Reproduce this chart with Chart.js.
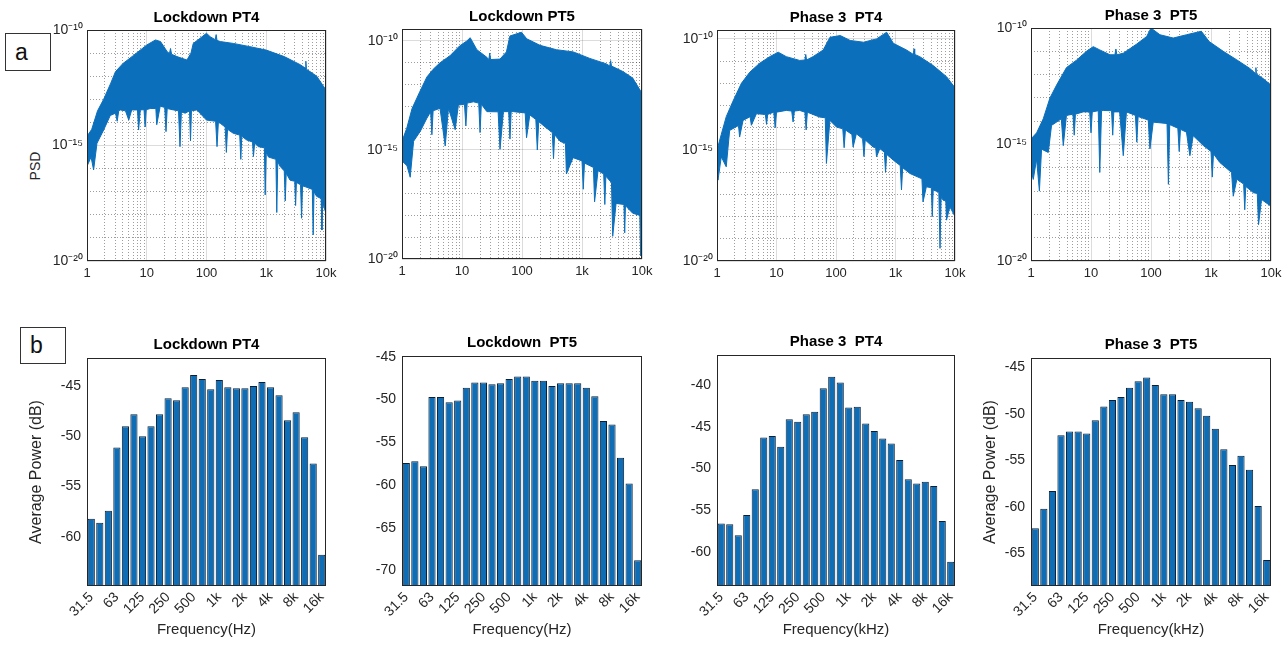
<!DOCTYPE html>
<html>
<head>
<meta charset="utf-8">
<script src="https://cdn.jsdelivr.net/npm/chart.js@4.4.0/dist/chart.umd.min.js"></script>
<style>
  body { margin: 0; width: 1288px; height: 649px; overflow: hidden; position: relative; background: #fff;
         font-family: 'Liberation Sans', Arial, Helvetica, sans-serif; }
  canvas { position: absolute; }
  .tag { position: absolute; border: 1px solid #333; box-sizing: border-box; font-size: 23px; color: #111;
         padding-left: 9px; background: #fff; }
  .ylab { position: absolute; width: 40px; text-align: center; font-size: 14px; color: #262626; transform: rotate(-90deg); }
</style>
</head>
<body>
<div class="tag" style="left:5px;top:33px;width:46px;height:38px;line-height:36px">a</div>
<div class="tag" style="left:20px;top:327px;width:46px;height:37px;line-height:35px">b</div>
<div class="ylab" style="left:15px;top:158px">PSD</div>

<canvas id="psd1"></canvas>
<canvas id="psd2"></canvas>
<canvas id="psd3"></canvas>
<canvas id="psd4"></canvas>
<canvas id="bar1"></canvas>
<canvas id="bar2"></canvas>
<canvas id="bar3"></canvas>
<canvas id="bar4"></canvas>

<script>
// ---- top row: PSD envelopes, frequency in Hz, value as log10(PSD) ----
// upper edge, lower edge, plus extra narrow spikes
const psd1FreqHi = [1, 1.2, 1.5, 1.9, 2.5, 3, 4, 6, 10, 14, 17, 22, 32, 47, 55, 60, 78, 100, 115, 170, 280, 530, 1000, 2000, 3700, 5400, 7000, 10000];
const psd1Hi = [-14.6, -14.3, -13.5, -13.0, -12.3, -11.8, -11.45, -11.1, -10.65, -10.43, -10.5, -10.94, -11.15, -11.3, -11.0, -10.58, -10.36, -10.14, -10.29, -10.5, -10.58, -10.72, -10.87, -11.15, -11.5, -11.8, -12.0, -12.6];
const psd1SpikeFreqHi = [24, 25, 26, 140, 145, 150, 4500, 4600, 4700];
const psd1SpikeHi = [-11.02, -10.8, -11.05, -10.42, -10.2, -10.45, -11.65, -11.35, -11.7];
const psd1FreqLo = [1, 1.17, 1.29, 1.47, 1.9, 2.45, 3.6, 4.4, 5, 5.6, 7, 7.3, 7.8, 11.4, 14.2, 14.7, 16.8, 28, 34, 36, 38, 44, 69, 100, 142, 150, 158, 170, 280, 470, 590, 610, 640, 740, 930, 960, 1000, 1090, 1450, 1500, 1560, 1700, 2500, 3750, 3900, 4050, 4450, 5900, 6100, 6300, 6950, 8300, 8550, 8800, 10000];
const psd1Lo = [-15.9, -15.5, -16.06, -14.9, -14.33, -13.7, -13.46, -13.5, -13.9, -13.46, -13.46, -14.33, -13.46, -13.4, -13.4, -14.1, -13.3, -13.46, -13.5, -15.05, -13.55, -13.6, -13.46, -13.9, -13.95, -15.05, -14.0, -14.04, -14.47, -14.76, -14.85, -15.48, -14.9, -15.05, -15.1, -17.14, -15.3, -15.5, -15.6, -17.9, -15.7, -15.9, -16.5, -16.7, -18.15, -16.75, -16.78, -16.9, -18.87, -17.0, -17.2, -17.3, -18.66, -17.5, -17.94];
const psd1SpikeFreqLo = [3.0, 3.2, 3.4, 9.0, 9.4, 9.8, 20, 21, 22, 52, 54, 56, 205, 215, 225, 360, 375, 390, 2000, 2080, 2160, 3000, 3100, 3200];
const psd1SpikeLo = [-13.6, -13.95, -13.5, -13.45, -14.2, -13.45, -13.35, -14.4, -13.4, -13.5, -14.8, -13.5, -14.2, -15.3, -14.3, -14.55, -15.6, -14.6, -16.1, -17.4, -16.2, -16.55, -17.6, -16.6];

const psd2FreqHi = [1, 1.2, 1.47, 2, 2.6, 3.3, 4.3, 6.3, 9.1, 12, 13.7, 17.7, 26, 43, 55, 63, 98, 120, 200, 375, 715, 1350, 2550, 4800, 7000, 10000];
const psd2Hi = [-14.6, -14.0, -13.1, -12.3, -11.65, -11.3, -11.0, -10.68, -10.23, -10.0, -9.85, -10.4, -10.75, -10.83, -10.5, -9.77, -9.6, -9.9, -10.2, -10.4, -10.5, -10.8, -11.05, -11.4, -11.7, -12.4];
const psd2SpikeFreqHi = [28, 29, 30, 2900, 3000, 3100];
const psd2SpikeHi = [-10.85, -10.55, -10.85, -11.15, -10.9, -11.15];
const psd2FreqLo = [1, 1.21, 1.37, 1.56, 2.02, 2.6, 4.3, 5.25, 5.95, 7.7, 8.7, 15.5, 26, 40, 43, 49, 72, 113, 119, 135, 255, 430, 530, 550, 710, 1550, 1620, 1850, 3100, 3250, 3700, 5500, 7000, 9200, 9500, 10000];
const psd2Lo = [-15.5, -15.72, -16.25, -14.6, -14.14, -13.54, -13.09, -14.82, -13.09, -14.07, -12.94, -12.79, -13.24, -13.25, -14.97, -13.24, -13.24, -13.3, -14.44, -13.39, -13.99, -14.6, -14.7, -16.1, -15.35, -15.8, -17.38, -15.95, -16.5, -18.96, -17.45, -17.6, -17.9, -18.0, -19.86, -18.2];
const psd2SpikeFreqLo = [3.0, 3.15, 3.3, 11, 11.6, 12.2, 19, 20, 21, 60, 63, 66, 170, 180, 190, 320, 335, 350, 1000, 1050, 1100, 2300, 2400, 2500, 5000, 5150, 5300];
const psd2SpikeLo = [-13.25, -14.3, -13.2, -12.9, -13.9, -12.85, -12.85, -14.2, -12.9, -13.24, -14.5, -13.24, -13.6, -15.0, -13.7, -14.2, -15.4, -14.3, -15.5, -16.8, -15.6, -16.1, -17.5, -16.2, -17.5, -18.8, -17.55];

const psd3FreqHi = [1, 1.18, 1.43, 1.86, 2.57, 3.55, 5.2, 7.7, 10.7, 14.6, 24.5, 41, 61, 79, 118, 173, 290, 480, 710, 920, 1530, 2560, 4300, 7200, 10000];
const psd3Hi = [-15.0, -14.3, -13.5, -12.8, -12.0, -11.5, -11.1, -10.8, -10.6, -10.8, -10.97, -10.8, -10.5, -9.93, -9.85, -10.07, -10.15, -10.0, -9.7, -10.2, -10.5, -10.8, -11.2, -11.7, -12.2];
const psd3SpikeFreqHi = [30, 31, 32, 2000, 2050, 2100];
const psd3SpikeHi = [-10.95, -10.7, -10.95, -10.7, -10.45, -10.7];
const psd3FreqLo = [1, 1.04, 1.18, 1.43, 1.63, 2.3, 2.4, 2.74, 3.6, 3.78, 4.6, 6.5, 6.8, 7.1, 14.6, 18, 19, 20, 24.5, 53, 66, 69, 79, 102, 185, 194, 220, 420, 465, 480, 545, 920, 1750, 2780, 2900, 3300, 5350, 5600, 5850, 6300, 7000, 7200, 8200, 10000];
const psd3Lo = [-16.06, -16.36, -15.31, -15.76, -14.12, -13.9, -14.42, -13.67, -13.5, -13.89, -13.37, -13.4, -13.85, -13.4, -13.22, -13.25, -13.74, -13.25, -13.22, -13.52, -13.55, -15.61, -13.67, -13.97, -14.3, -14.87, -14.27, -14.87, -14.9, -15.31, -14.94, -15.46, -16.06, -16.3, -17.34, -16.66, -16.9, -19.43, -17.1, -17.26, -17.3, -18.16, -17.56, -18.0];
const psd3SpikeFreqLo = [9, 9.5, 10, 30, 31.5, 33, 130, 137, 144, 280, 295, 310, 650, 680, 710, 1200, 1260, 1320, 4000, 4150, 4300];
const psd3SpikeLo = [-13.3, -14.0, -13.3, -13.3, -14.1, -13.3, -14.05, -14.9, -14.1, -14.5, -15.3, -14.55, -15.1, -16.0, -15.2, -15.7, -16.8, -15.8, -16.7, -18.0, -16.8];

const psd4FreqHi = [1, 1.24, 1.6, 2.07, 2.67, 3.9, 5.8, 8.4, 10.9, 14, 20.7, 34.5, 57, 85, 100, 141, 235, 390, 690, 930, 1600, 2700, 4400, 7300, 10000];
const psd4Hi = [-14.76, -14.5, -13.9, -13.0, -12.45, -11.7, -11.37, -11.0, -10.8, -10.94, -11.15, -11.08, -10.7, -10.36, -10.0, -10.29, -10.43, -10.29, -10.14, -10.58, -11.0, -11.37, -11.73, -12.16, -12.45];
const psd4SpikeFreqHi = [25, 26, 27, 5500, 5600, 5700];
const psd4SpikeHi = [-11.15, -10.9, -11.15, -11.95, -11.7, -11.97];
const psd4FreqLo = [1, 1.09, 1.24, 1.38, 1.5, 1.94, 2.2, 3.2, 3.45, 3.9, 7.4, 13.2, 14, 15, 16, 30, 34.5, 39, 90, 96, 109, 185, 195, 205, 220, 390, 445, 505, 750, 1400, 2200, 2350, 2700, 5100, 5900, 6200, 6950, 10000];
const psd4Lo = [-16.06, -16.5, -15.63, -17.0, -15.2, -15.34, -14.18, -13.9, -15.05, -13.75, -13.6, -13.55, -16.2, -13.55, -13.54, -13.6, -15.48, -13.6, -13.95, -15.19, -14.04, -14.1, -16.71, -14.15, -14.18, -14.47, -15.48, -14.62, -15.05, -15.77, -16.2, -17.22, -16.49, -17.07, -17.1, -18.44, -17.36, -17.65];
const psd4SpikeFreqLo = [5, 5.25, 5.5, 9.5, 10, 10.5, 22, 23, 24, 55, 58, 61, 280, 295, 310, 1000, 1050, 1100, 3500, 3650, 3800];
const psd4SpikeLo = [-13.7, -14.6, -13.7, -13.6, -14.5, -13.6, -13.55, -14.6, -13.6, -13.75, -14.9, -13.8, -14.3, -15.3, -14.35, -15.3, -16.4, -15.4, -16.7, -17.8, -16.8];

const xTickTop = [1, 10, 100, 1000, 10000];
const xTickTopText = ["1", "10", "100", "1k", "10k"];
const yTickTopExp = [-20, -15, -10];
const yTickTopText = ["10⁻²⁰", "10⁻¹⁵", "10⁻¹⁰"];

// ---- bottom row: 1/3 octave band average power (dB) ----
const bands = ["31.5", "40", "50", "63", "80", "100", "125", "160", "200", "250", "315", "400", "500", "630", "800",
  "1k", "1.25k", "1.6k", "2k", "2.5k", "3.15k", "4k", "5k", "6.3k", "8k", "10k", "12.5k", "16k"];
const octaveBands = ["31.5", "63", "125", "250", "500", "1k", "2k", "4k", "8k", "16k"];

const lockdownPT4 = [-58.2, -58.6, -57.4, -51.1, -49.0, -47.8, -50.0, -49.0, -47.8, -46.2, -46.4, -45.1, -43.9, -44.3, -45.3, -44.4, -45.1, -45.2, -45.2, -45.0, -44.6, -45.1, -45.9, -48.4, -47.6, -50.1, -52.7, -61.8];
const lockdownPT5 = [-57.4, -57.2, -57.8, -49.7, -49.7, -50.3, -50.1, -48.6, -48.0, -48.0, -48.2, -48.1, -47.6, -47.3, -47.3, -47.8, -47.8, -48.4, -48.1, -48.1, -48.1, -48.6, -49.6, -52.5, -52.9, -56.8, -59.8, -68.8];
const phase3PT4 = [-56.6, -56.7, -58.0, -55.6, -52.5, -46.3, -46.1, -47.4, -44.1, -44.4, -43.5, -43.2, -40.4, -39.0, -39.7, -42.7, -42.6, -44.6, -45.5, -46.4, -47.0, -49.0, -51.3, -51.8, -51.6, -52.1, -56.3, -61.2];
const phase3PT5 = [-62.3, -60.2, -58.3, -52.3, -51.9, -51.9, -52.1, -50.7, -49.2, -48.5, -48.2, -47.2, -46.5, -46.1, -46.9, -47.9, -47.9, -48.5, -48.7, -49.4, -50.2, -51.6, -53.8, -55.5, -54.5, -56.0, -59.9, -65.7];

const yTicksB1 = [-60, -55, -50, -45];
const yTicksB2 = [-70, -65, -60, -55, -50, -45];
const yTicksB3 = [-60, -55, -50, -45, -40];
const yTicksB4 = [-65, -60, -55, -50, -45];

const TXT = "#262626";
const BLUE = "#0b6fbc";
const BAR_FILL = "#0f6db6";
const BAR_EDGE = "#0b2036";
const GRID_MAJOR = "rgba(38,38,38,0.16)";
const GRID_MINOR = "rgba(38,38,38,0.45)";

Chart.defaults.font.family = "'Liberation Sans', Arial, Helvetica, sans-serif";
Chart.defaults.color = TXT;

// gridline positions for the log frequency axis: 1..9 per decade
const xGridTop = [];
for (let d = 1; d < 10000; d *= 10) for (let k = 1; k < 10; k++) xGridTop.push(k * d);
xGridTop.push(10000);

const boxFrame = {
  id: "boxFrame",
  afterDatasetsDraw(chart) {
    const a = chart.chartArea, ctx = chart.ctx;
    ctx.save();
    ctx.strokeStyle = TXT;
    ctx.lineWidth = 1;
    ctx.strokeRect(Math.round(a.left) + 0.5, Math.round(a.top) + 0.5,
      Math.round(a.right - a.left) - 1, Math.round(a.bottom - a.top) - 1);
    ctx.restore();
  }
};

// empty right-hand axis, same width as the left one, so titles center over the plot
const spacer = {
  position: "right", display: true,
  grid: { display: false, drawTicks: false }, border: { display: false }, ticks: { display: false },
  afterFit: s => { s.width = 80; }
};

function place(id, box, titleH, xH) {
  const c = document.getElementById(id);
  c.width = box.r - box.l + 160;
  c.height = titleH + (box.b - box.t) + xH;
  c.style.left = (box.l - 80) + "px";
  c.style.top = (box.t - titleH) + "px";
  return c;
}

// join edge points and spike points, sorted by frequency
function toPoints(freqs, exps, spikeFreqs, spikeExps) {
  const pts = freqs.map((f, i) => ({ x: f, e: exps[i] }))
    .concat(spikeFreqs.map((f, i) => ({ x: f, e: spikeExps[i] })));
  pts.sort((a, b) => a.x - b.x);
  return pts.map(p => ({ x: p.x, y: Math.pow(10, p.e) }));
}

const isMajorX = c => c.tick && xTickTop.includes(c.tick.value);
const isMajorY = c => c.tick && yTickTopExp.includes(Math.round(Math.log10(c.tick.value)));

function psdConfig(title, hi, lo, yMaxExp) {
  const yGrid = [];
  for (let e = -20; e <= Math.floor(yMaxExp); e++) yGrid.push(Math.pow(10, e));
  return {
    type: "line",
    data: {
      datasets: [
        { data: hi, borderColor: BLUE, backgroundColor: BLUE, borderWidth: 1, pointRadius: 0, tension: 0, fill: "+1" },
        { data: lo, borderColor: BLUE, backgroundColor: BLUE, borderWidth: 1, pointRadius: 0, tension: 0, fill: false }
      ]
    },
    options: {
      responsive: false, animation: false, events: [],
      layout: { padding: 0 },
      plugins: {
        legend: { display: false }, tooltip: { enabled: false },
        title: { display: true, text: title, color: "#000", font: { size: 15, weight: "bold", lineHeight: "16px" }, padding: { top: 0, bottom: 4 } }
      },
      scales: {
        x: {
          type: "logarithmic", min: 1, max: 10000,
          afterBuildTicks: s => { s.ticks = xGridTop.map(v => ({ value: v })); },
          afterFit: s => { s.height = 30; },
          ticks: {
            autoSkip: false, maxRotation: 0, padding: 5, font: { size: 13 }, color: TXT,
            callback: v => { const k = xTickTop.indexOf(v); return k < 0 ? "" : xTickTopText[k]; }
          },
          grid: { drawTicks: false, color: c => isMajorX(c) ? GRID_MAJOR : GRID_MINOR },
          border: { display: false, dash: c => isMajorX(c) ? [] : [1, 2] }
        },
        y: {
          type: "logarithmic", min: 1e-20, max: Math.pow(10, yMaxExp),
          afterBuildTicks: s => { s.ticks = yGrid.map(v => ({ value: v })); },
          afterFit: s => { s.width = 80; },
          ticks: {
            autoSkip: false, padding: 4, font: { size: 14 }, color: TXT,
            callback: v => { const k = yTickTopExp.indexOf(Math.round(Math.log10(v))); return k < 0 ? "" : yTickTopText[k]; }
          },
          grid: { drawTicks: false, color: c => isMajorY(c) ? GRID_MAJOR : GRID_MINOR },
          border: { display: false, dash: c => isMajorY(c) ? [] : [1, 2] }
        },
        r: spacer
      }
    },
    plugins: [boxFrame]
  };
}

function barConfig(title, values, yMin, yMax, yTicks, xTitle, yTitle, yTitlePad) {
  return {
    type: "bar",
    data: {
      labels: bands,
      datasets: [{ data: values, backgroundColor: BAR_FILL, borderColor: BAR_EDGE, borderWidth: 1,
        barPercentage: 0.84, categoryPercentage: 1, base: yMin }]
    },
    options: {
      responsive: false, animation: false, events: [],
      layout: { padding: 0 },
      plugins: {
        legend: { display: false }, tooltip: { enabled: false },
        title: { display: true, text: title, color: "#000", font: { size: 15, weight: "bold", lineHeight: "16px" }, padding: { top: 0, bottom: 5 } }
      },
      scales: {
        x: {
          grid: { display: false, drawTicks: false }, border: { display: false },
          afterFit: s => { s.height = 70; },
          ticks: {
            autoSkip: false, minRotation: 45, maxRotation: 45, padding: 3, font: { size: 14 }, color: TXT,
            callback: (v, i) => octaveBands.includes(bands[i]) ? bands[i] : ""
          },
          title: { display: true, text: xTitle, color: TXT, font: { size: 15, lineHeight: "18px" }, padding: { top: 0, bottom: 17 } }
        },
        y: {
          min: yMin, max: yMax,
          grid: { display: false, drawTicks: false }, border: { display: false },
          afterBuildTicks: s => { s.ticks = yTicks.map(v => ({ value: v })); },
          afterFit: s => { s.width = 80; },
          ticks: { autoSkip: false, padding: 6, font: { size: 14 }, color: TXT },
          title: { display: !!yTitle, text: yTitle || "", color: TXT, font: { size: 16, lineHeight: "19px" }, padding: { top: yTitlePad || 0, bottom: 0 } }
        },
        r: spacer
      }
    },
    plugins: [boxFrame]
  };
}

new Chart(place("psd1", { l: 87, r: 326, t: 30, b: 261 }, 20, 30), psdConfig("Lockdown PT4",
  toPoints(psd1FreqHi, psd1Hi, psd1SpikeFreqHi, psd1SpikeHi), toPoints(psd1FreqLo, psd1Lo, psd1SpikeFreqLo, psd1SpikeLo), -10));
new Chart(place("psd2", { l: 402, r: 642, t: 29, b: 259 }, 20, 30), psdConfig("Lockdown PT5",
  toPoints(psd2FreqHi, psd2Hi, psd2SpikeFreqHi, psd2SpikeHi), toPoints(psd2FreqLo, psd2Lo, psd2SpikeFreqLo, psd2SpikeLo), -9.45));
new Chart(place("psd3", { l: 717, r: 955, t: 30, b: 261 }, 20, 30), psdConfig("Phase 3  PT4",
  toPoints(psd3FreqHi, psd3Hi, psd3SpikeFreqHi, psd3SpikeHi), toPoints(psd3FreqLo, psd3Lo, psd3SpikeFreqLo, psd3SpikeLo), -9.6));
new Chart(place("psd4", { l: 1031, r: 1271, t: 28, b: 261 }, 20, 30), psdConfig("Phase 3  PT5",
  toPoints(psd4FreqHi, psd4Hi, psd4SpikeFreqHi, psd4SpikeHi), toPoints(psd4FreqLo, psd4Lo, psd4SpikeFreqLo, psd4SpikeLo), -10));

new Chart(place("bar1", { l: 87, r: 326, t: 358, b: 586 }, 21, 70), barConfig("Lockdown PT4", lockdownPT4, -64.9, -42.2, yTicksB1, "Frequency(Hz)", "Average Power (dB)", 20));
new Chart(place("bar2", { l: 402, r: 642, t: 356, b: 586 }, 21, 70), barConfig("Lockdown  PT5", lockdownPT5, -71.8, -44.9, yTicksB2, "Frequency(Hz)", "", 0));
new Chart(place("bar3", { l: 717, r: 955, t: 355, b: 586 }, 21, 70), barConfig("Phase 3  PT4", phase3PT4, -64.1, -36.4, yTicksB3, "Frequency(kHz)", "", 0));
new Chart(place("bar4", { l: 1031, r: 1271, t: 358, b: 586 }, 21, 70), barConfig("Phase 3  PT5", phase3PT5, -68.5, -44.0, yTicksB4, "Frequency(kHz)", "Average Power (dB)", 30));
</script>
</body>
</html>
